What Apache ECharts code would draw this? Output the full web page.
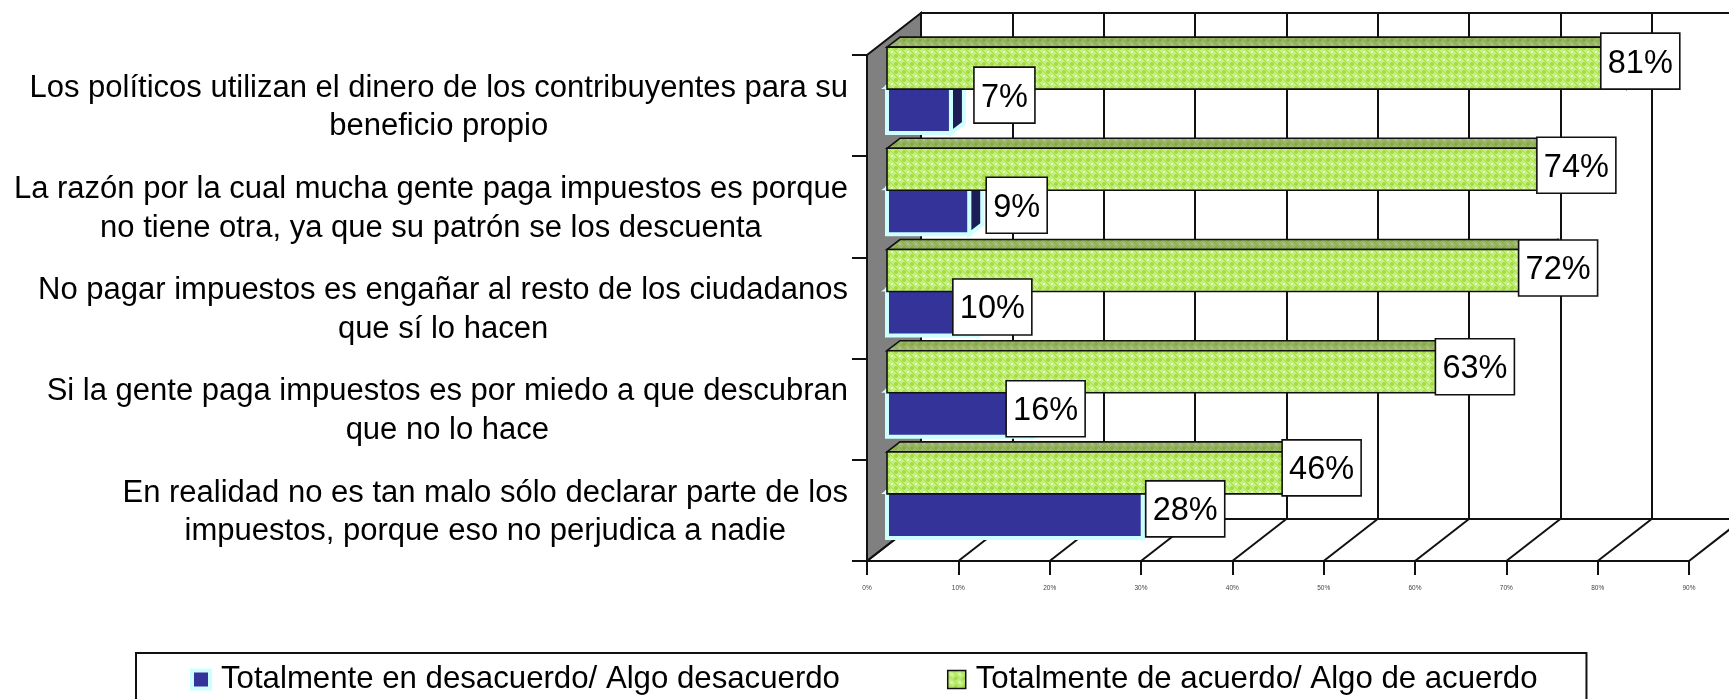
<!DOCTYPE html>
<html><head><meta charset="utf-8">
<style>html,body{margin:0;padding:0;background:#fff;overflow:hidden}#c{width:1729px;height:699px}</style>
<script src="https://cdn.jsdelivr.net/npm/echarts@6/dist/echarts.min.js"></script>
</head><body><div id="c"></div>
<script>
const categories = [
  'Los políticos utilizan el dinero de los contribuyentes para su\nbeneficio propio',
  'La razón por la cual mucha gente paga impuestos es porque\nno tiene otra, ya que su patrón se los descuenta',
  'No pagar impuestos es engañar al resto de los ciudadanos\nque sí lo hacen',
  'Si la gente paga impuestos es por miedo a que descubran\nque no lo hace',
  'En realidad no es tan malo sólo declarar parte de los\nimpuestos, porque eso no perjudica a nadie'
];
const seriesNames = ['Totalmente en desacuerdo/ Algo desacuerdo', 'Totalmente de acuerdo/ Algo de acuerdo'];
const disagree = [7, 9, 10, 16, 28];
const agree = [81, 74, 72, 63, 46];
const axisTicks = [0, 10, 20, 30, 40, 50, 60, 70, 80, 90];

// layout (pixels), kept apart from the data
const FONT = '"Liberation Sans", Arial, sans-serif';
const WALL_DX = 54, WALL_DY = 42;      // depth of the chart box
const BAR_DX = 20, BAR_DY = 15.5;      // how far into the box the bars sit
const SIDE_DX = 13, SIDE_DY = 10;      // depth of a bar
const BAR_H = 42;
const TEXT_SIZE = 31;
// label box nudges from the bar's end and the seam between the two bars
const agreeNudge = [[-26,-29],[-26,-26],[-26,-24.5],[-27,-27],[-25,-27]];
const disagreeNudge = [[23,5],[17,14],[-25.5,14.5],[-27,15],[3,14]];

function lattice(bg, line, hi) {
  const cv = document.createElement('canvas'); cv.width = 8; cv.height = 8;
  const g = cv.getContext('2d');
  g.fillStyle = bg; g.fillRect(0,0,8,8);
  for (let y=0;y<8;y++) for (let x=0;x<8;x++) {
    const d = Math.abs(x-3.5)+Math.abs(y-3.5);
    if (d<2) { g.fillStyle = hi; g.fillRect(x,y,1,1); }
    else if (d>5.5 || Math.abs(d-4)<0.1 && (x+y)%2===0) { g.fillStyle = line; g.fillRect(x,y,1,1); }
  }
  return cv;
}
const greenFront = {image: lattice('#C2EE82', '#A6DA45', '#DDFCC0'), repeat: 'repeat'};
const greenTop = {image: lattice('#9CB56F', '#88AB48', '#ACC290'), repeat: 'repeat'};
const measure = document.createElement('canvas').getContext('2d');
measure.font = TEXT_SIZE + 'px ' + FONT;

function poly(points, style) { return {type:'polygon', shape:{points}, style}; }

function barShapes(api, fills) {
  const end = api.coord([api.value(0), api.value(1)]);
  const start = api.coord([0, api.value(1)]);
  const x0 = start[0] + BAR_DX, x1 = end[0] + BAR_DX, seam = end[1] - BAR_DY;
  const top = fills.above ? seam - BAR_H - 1 : seam - 3;
  const h = fills.above ? BAR_H : BAR_H + 4;
  const bot = top + h;
  const s = fills.stroke, w = fills.width;
  return {type:'group', children:[
    poly([[x0,top],[x0+SIDE_DX,top-SIDE_DY],[x1+SIDE_DX,top-SIDE_DY],[x1,top]], {fill:fills.top, stroke:s, lineWidth:w}),
    poly([[x1,top],[x1+SIDE_DX,top-SIDE_DY],[x1+SIDE_DX,bot-SIDE_DY],[x1,bot]], {fill:fills.side, stroke:s, lineWidth:w}),
    {type:'rect', shape:{x:x0,y:top,width:x1-x0,height:h}, style:{fill:fills.front, stroke:s, lineWidth:w}}
  ]};
}

function labelBox(api, value, nudge) {
  const end = api.coord([value, api.value(1)]);
  const txt = value + '%';
  const boxW = value < 10 ? 61 : 79;
  const left = end[0] + BAR_DX + nudge[0];
  const cy = end[1] - BAR_DY + nudge[1];
  return {type:'group', children:[
    {type:'rect', shape:{x:left,y:cy-28,width:boxW,height:56}, style:{fill:'#fff', stroke:'#111', lineWidth:1.6}},
    {type:'text', style:{x:left+boxW/2,y:cy+2.5,text:txt,fill:'#000',font:'32.5px '+FONT,align:'center',verticalAlign:'middle'}}
  ]};
}

const chart = echarts.init(document.getElementById('c'), null, {renderer:'canvas', width:1729, height:699});
chart.setOption({
  animation:false,
  backgroundColor:'#fff',
  textStyle:{fontFamily:FONT},
  grid:[
    {left:867, top:55, width:822, height:506, containLabel:false, outerBoundsMode:'none'},
    {left:867+WALL_DX, top:55-WALL_DY, width:822, height:506, show:true, borderColor:'#111', borderWidth:2, backgroundColor:'transparent', outerBoundsMode:'none'}
  ],
  xAxis:[
    {type:'value', gridIndex:0, min:0, max:90, interval:10,
     axisLine:{show:true, lineStyle:{color:'#111', width:2}},
     axisTick:{show:true, length:14, lineStyle:{color:'#111', width:2}},
     axisLabel:{show:true, fontSize:6.5, color:'#444', margin:24, formatter:'{value}%', fontFamily:FONT, hideOverlap:false},
     splitLine:{show:false}},
    {type:'value', gridIndex:1, min:0, max:90, interval:10,
     axisLine:{show:false}, axisTick:{show:false}, axisLabel:{show:false},
     splitLine:{show:true, lineStyle:{color:'#111', width:2}}}
  ],
  yAxis:[
    {type:'category', gridIndex:0, data:categories, inverse:true,
     axisLine:{show:true, lineStyle:{color:'#111', width:2}},
     axisTick:{show:true, length:15, alignWithLabel:false, lineStyle:{color:'#111', width:2}},
     axisLabel:{show:false}, splitLine:{show:false}},
    {type:'value', gridIndex:1, min:0, max:1, show:false, splitLine:{show:false}}
  ],
  legend:{
    left:136, top:653, orient:'horizontal', selectedMode:false, icon:'rect',
    itemWidth:18, itemHeight:18, itemGap:107,
    padding:[11,49,12,54], borderColor:'#111', borderWidth:2, backgroundColor:'#fff',
    textStyle:{fontSize:31.2, color:'#000', fontFamily:FONT, padding:[0,0,0,6]},
    data:[
      {name:seriesNames[0], itemStyle:{color:'#333399', borderColor:'#CCFFFF', borderWidth:4}},
      {name:seriesNames[1], itemStyle:{color:greenFront, borderColor:'#111', borderWidth:1.5}, textStyle:{padding:[0,0,0,5]}}
    ]
  },
  series:[
    { // side wall
      type:'custom', xAxisIndex:0, yAxisIndex:0, silent:true, z:2,
      data:[[0,0]],
      renderItem:(p,api)=>{
        const band = api.size([0,1])[1];
        const a = api.coord([0,0]), b = api.coord([0,categories.length-1]);
        const t = a[1]-band/2, u = b[1]+band/2, x = a[0];
        return poly([[x,t],[x+WALL_DX,t-WALL_DY],[x+WALL_DX,u-WALL_DY],[x,u]], {fill:'#808080', stroke:'#111', lineWidth:2});
      }
    },
    { // floor lines
      type:'custom', xAxisIndex:0, yAxisIndex:0, silent:true, z:2,
      data:axisTicks.map(t=>[t,categories.length-1]),
      renderItem:(p,api)=>{
        const band = api.size([0,1])[1];
        const c = api.coord([api.value(0),api.value(1)]);
        const y = c[1]+band/2;
        return {type:'line', shape:{x1:c[0],y1:y,x2:c[0]+WALL_DX,y2:y-WALL_DY}, style:{stroke:'#111', lineWidth:2}};
      }
    },
    { // category labels: each block ends at the same right edge, its lines centred
      type:'custom', xAxisIndex:0, yAxisIndex:0, silent:true, z:3,
      data:categories.map((c,i)=>[0,i]),
      renderItem:(p,api)=>{
        const i = api.value(1);
        const c = api.coord([0,i]);
        const w = Math.max(...categories[i].split('\n').map(s=>measure.measureText(s).width));
        return {type:'text', style:{x:c[0]-19-w/2, y:c[1]+2, text:categories[i], fill:'#000', font:TEXT_SIZE+'px '+FONT, lineHeight:38.6, align:'center', verticalAlign:'middle'}};
      }
    },
    {
      name:seriesNames[0], type:'custom', xAxisIndex:0, yAxisIndex:0, silent:true, z:4,
      itemStyle:{color:'#333399'},
      data:disagree.map((v,i)=>[v,i]),
      renderItem:(p,api)=>barShapes(api,{above:false, front:'#333399', side:'#1C1C57', top:'#1C1C57', stroke:'#CCFFFF', width:4})
    },
    {
      name:seriesNames[1], type:'custom', xAxisIndex:0, yAxisIndex:0, silent:true, z:5,
      itemStyle:{color:'#BDEB78'},
      data:agree.map((v,i)=>[v,i]),
      renderItem:(p,api)=>barShapes(api,{above:true, front:greenFront, side:greenTop, top:greenTop, stroke:'#111', width:1.6})
    },
    {
      type:'custom', xAxisIndex:0, yAxisIndex:0, silent:true, z:6,
      data:agree.map((v,i)=>[v,i]),
      renderItem:(p,api)=>labelBox(api, api.value(0), agreeNudge[api.value(1)])
    },
    {
      type:'custom', xAxisIndex:0, yAxisIndex:0, silent:true, z:6,
      data:disagree.map((v,i)=>[v,i]),
      renderItem:(p,api)=>labelBox(api, api.value(0), disagreeNudge[api.value(1)])
    }
  ]
});
</script></body></html>
